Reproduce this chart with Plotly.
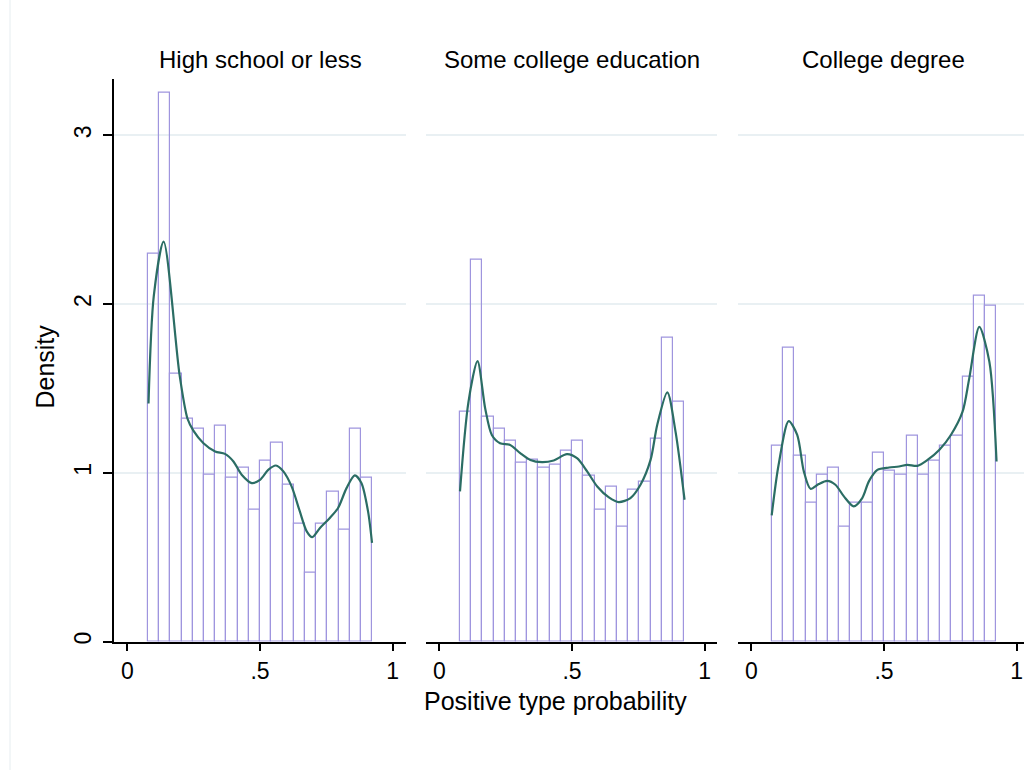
import plotly.graph_objects as go

# ---------------- data ----------------
panel_titles = ["High school or less", "Some college education", "College degree"]
bin_start = 0.078
bin_width = 0.04225

hs_density = [2.30, 3.25, 1.59, 1.32, 1.26, 0.99, 1.28, 0.97, 1.03, 0.78,
              1.07, 1.18, 0.93, 0.70, 0.41, 0.70, 0.89, 0.66, 1.26, 0.97]
sc_density = [1.36, 2.26, 1.33, 1.26, 1.19, 1.06, 1.08, 1.03, 1.05, 1.13,
              1.19, 0.98, 0.78, 0.92, 0.68, 0.90, 0.95, 1.20, 1.80, 1.42]
cd_density = [1.16, 1.74, 1.10, 0.82, 0.99, 1.03, 0.68, 0.82, 0.82, 1.12,
              1.01, 0.99, 1.22, 0.99, 1.07, 1.16, 1.22, 1.57, 2.05, 1.99]

hs_kde_x = [0.080, 0.100, 0.137, 0.197, 0.227, 0.249, 0.287, 0.331, 0.368, 0.400,
            0.431, 0.469, 0.500, 0.531, 0.560, 0.588, 0.619, 0.650, 0.676, 0.697,
            0.726, 0.763, 0.794, 0.826, 0.857, 0.882, 0.907, 0.922]
hs_kde_y = [1.41, 2.05, 2.37, 1.58, 1.32, 1.25, 1.175, 1.126, 1.112, 1.067,
            0.988, 0.939, 0.958, 1.017, 1.043, 1.008, 0.919, 0.771, 0.653, 0.618,
            0.673, 0.732, 0.791, 0.909, 0.984, 0.939, 0.771, 0.584]

sc_kde_x = [0.078, 0.110, 0.144, 0.173, 0.198, 0.229, 0.267, 0.305, 0.343, 0.387,
            0.431, 0.481, 0.519, 0.557, 0.595, 0.639, 0.676, 0.720, 0.758, 0.796,
            0.821, 0.859, 0.890, 0.924]
sc_kde_y = [0.89, 1.42, 1.661, 1.381, 1.224, 1.175, 1.165, 1.116, 1.076, 1.063,
            1.073, 1.110, 1.086, 1.008, 0.919, 0.854, 0.826, 0.850, 0.929, 1.076,
            1.283, 1.476, 1.244, 0.840]

cd_kde_x = [0.077, 0.103, 0.141, 0.173, 0.198, 0.223, 0.254, 0.286, 0.317, 0.349,
            0.386, 0.418, 0.443, 0.475, 0.519, 0.556, 0.588, 0.626, 0.664, 0.708,
            0.752, 0.796, 0.821, 0.859, 0.897, 0.924]
cd_kde_y = [0.748, 1.047, 1.306, 1.224, 1.008, 0.905, 0.933, 0.952, 0.929, 0.860,
            0.801, 0.850, 0.949, 1.017, 1.031, 1.037, 1.047, 1.041, 1.076, 1.135,
            1.224, 1.362, 1.558, 1.864, 1.657, 1.067]

x_tickvals = [0, 0.5, 1]
x_ticktext = ["0", ".5", "1"]
y_tickvals = [0, 1, 2, 3]
y_ticktext = ["0", "1", "2", "3"]
x_title = "Positive type probability"
y_title = "Density"

# ---------------- style ----------------
W, H = 1024, 773
FONT = "Liberation Sans, Arial, sans-serif"
BAR_LINE = "#9f95de"
KDE_COLOR = "#2b6d64"
GRID = "#e9f0f3"

panels_px = [(114, 406), (426, 717), (738, 1024)]
plot_top, plot_bottom = 79, 644
px_per_unit = (406 - 114) / 1.1

datasets = [(hs_density, hs_kde_x, hs_kde_y),
            (sc_density, sc_kde_x, sc_kde_y),
            (cd_density, cd_kde_x, cd_kde_y)]

fig = go.Figure()
ydom = [(H - plot_bottom) / H, (H - plot_top) / H]

for i, (dens, kx, ky) in enumerate(datasets):
    xa = "x" if i == 0 else f"x{i+1}"
    ya = "y" if i == 0 else f"y{i+1}"
    centers = [bin_start + bin_width * (k + 0.5) for k in range(len(dens))]
    fig.add_trace(go.Bar(x=centers, y=dens, width=bin_width,
                         marker=dict(color="rgba(255,255,255,0)",
                                     line=dict(color=BAR_LINE, width=1.2)),
                         xaxis=xa, yaxis=ya, showlegend=False, hoverinfo="skip"))
    fig.add_trace(go.Scatter(x=kx, y=ky, mode="lines",
                             line=dict(color=KDE_COLOR, width=2.2, shape="spline", smoothing=0.8),
                             xaxis=xa, yaxis=ya, showlegend=False, hoverinfo="skip"))

    l, r = panels_px[i]
    xmax = -0.05 + (r - l) / px_per_unit
    xkey = "xaxis" if i == 0 else f"xaxis{i+1}"
    ykey = "yaxis" if i == 0 else f"yaxis{i+1}"
    fig.layout[xkey] = dict(domain=[l / W, r / W], range=[-0.05, xmax], anchor=ya,
                            tickvals=x_tickvals, ticktext=x_ticktext,
                            ticks="outside", ticklen=8, tickwidth=1.5, tickcolor="black",
                            showline=True, linecolor="black", linewidth=1.5,
                            showgrid=False, zeroline=False,
                            tickfont=dict(family=FONT, size=23, color="black"))
    fig.layout[ykey] = dict(domain=ydom, range=[0, (plot_bottom - plot_top) / 169.4],
                            anchor=xa, showgrid=True, gridcolor=GRID, gridwidth=1.5,
                            zeroline=False, tickvals=y_tickvals,
                            ticktext=y_ticktext if i == 0 else None,
                            showticklabels=(i == 0),
                            ticks="outside" if i == 0 else "", ticklen=9, tickwidth=1.5,
                            tickcolor="black", showline=(i == 0), linecolor="black",
                            linewidth=1.5, tickangle=-90, ticklabelstandoff=3,
                            tickfont=dict(family=FONT, size=23, color="black"))
    fig.add_annotation(x=((l + (r if i < 2 else 1029)) / 2) / W, y=(H - 60) / H,
                       xref="paper", yref="paper", text=panel_titles[i],
                       showarrow=False, xanchor="center", yanchor="middle",
                       font=dict(family=FONT, size=24, color="black"))

fig.add_annotation(x=555.5 / W, y=(H - 704) / H, xref="paper", yref="paper",
                   text=x_title, showarrow=False, xanchor="center", yanchor="middle",
                   font=dict(family=FONT, size=25, color="black"))
fig.add_annotation(x=45 / W, y=(H - 368) / H, xref="paper", yref="paper",
                   text=y_title, showarrow=False, xanchor="center", yanchor="middle",
                   textangle=-90, font=dict(family=FONT, size=25, color="black"))

# faint outer frame edge
fig.add_shape(type="line", xref="paper", yref="paper", x0=10 / W, x1=10 / W, y0=0, y1=1,
              line=dict(color="#e6edf0", width=1))

fig.update_layout(width=W, height=H, margin=dict(l=0, r=0, t=0, b=0),
                  paper_bgcolor="white", plot_bgcolor="white", barmode="overlay",
                  bargap=0)

fig.write_html("out.html")
